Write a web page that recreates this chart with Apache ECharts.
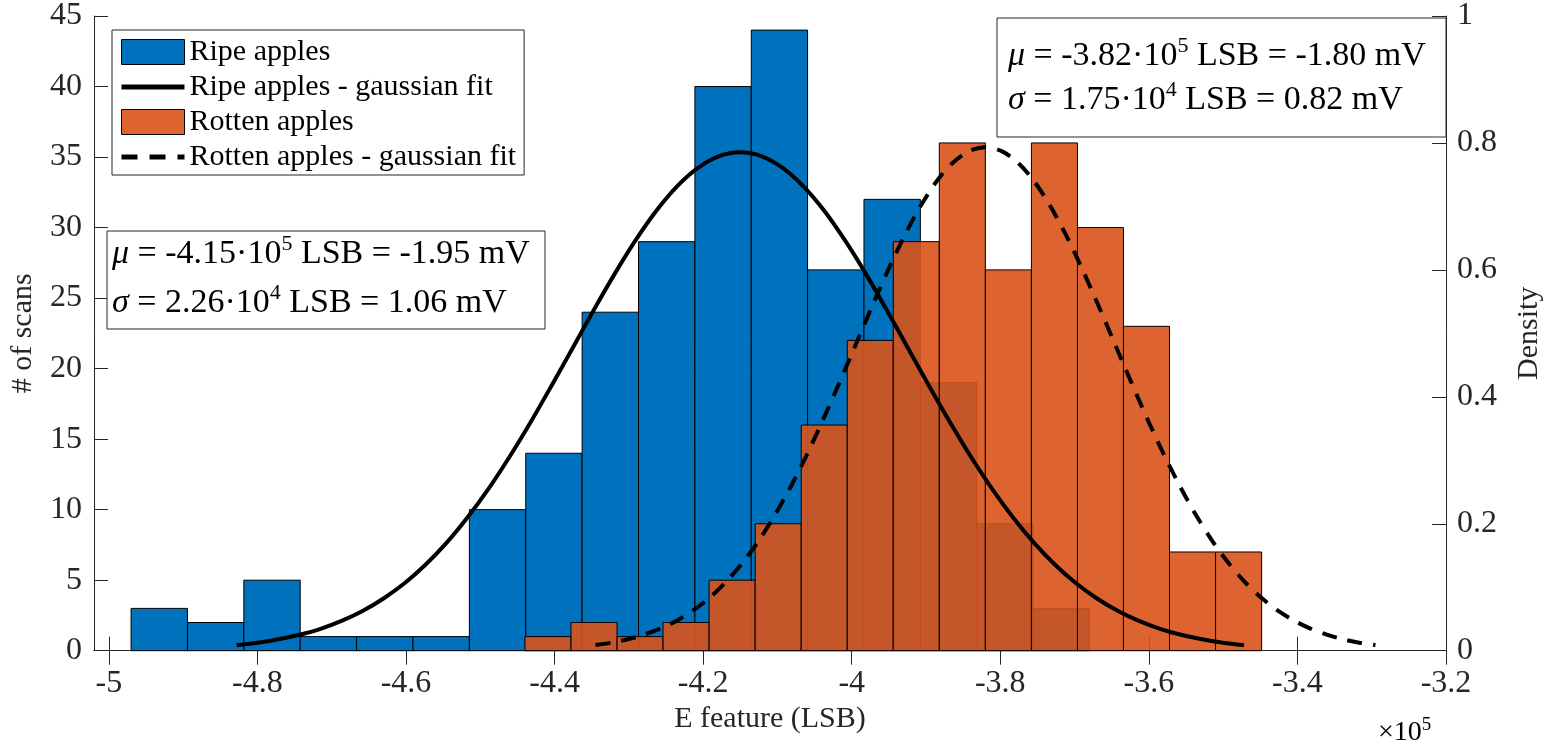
<!DOCTYPE html>
<html><head><meta charset="utf-8">
<script src="https://cdn.jsdelivr.net/npm/echarts@6/dist/echarts.min.js"></script>
<style>html,body{margin:0;padding:0;background:#fff}#c{width:1552px;height:749px}</style>
</head><body><div id="c"></div>
<script>
// x values in units of 1e5 LSB
const xTicks = [-5, -4.8, -4.6, -4.4, -4.2, -4, -3.8, -3.6, -3.4, -3.2];
const ripeEdges = [-4.9701, -4.8942, -4.8183, -4.7424, -4.6665, -4.5906, -4.5147, -4.4388, -4.3629,
  -4.2870, -4.2111, -4.1352, -4.0594, -3.9835, -3.9076, -3.8317, -3.7558, -3.6800];
const ripeCounts = [3, 2, 5, 1, 1, 1, 10, 14, 24, 29, 40, 44, 27, 32, 19, 9, 3];
const rottenEdges = [-4.4399, -4.3779, -4.3159, -4.2540, -4.1920, -4.1300, -4.0680, -4.0060, -3.9441,
  -3.8821, -3.8201, -3.7581, -3.6961, -3.6342, -3.5722, -3.5102, -3.4482];
const rottenCounts = [1, 2, 1, 2, 5, 9, 16, 22, 29, 36, 27, 36, 30, 23, 7, 7];
const ripeFitX = [-4.828, -4.7998, -4.7715, -4.7433, -4.715, -4.6868, -4.6585, -4.6303, -4.602, -4.5738,
  -4.5455, -4.5173, -4.489, -4.4608, -4.4325, -4.4043, -4.376, -4.3478, -4.3195, -4.2913, -4.263, -4.2348,
  -4.2065, -4.1783, -4.15, -4.1218, -4.0935, -4.0653, -4.037, -4.0088, -3.9805, -3.9523, -3.924, -3.8958,
  -3.8675, -3.8393, -3.811, -3.7828, -3.7545, -3.7263, -3.698, -3.6698, -3.6415, -3.6133, -3.585, -3.5568,
  -3.5285, -3.5003, -3.472];
const ripeFitY = [0.39, 0.57, 0.81, 1.13, 1.55, 2.11, 2.81, 3.70, 4.78, 6.09, 7.64, 9.44, 11.47, 13.73,
  16.18, 18.77, 21.43, 24.10, 26.68, 29.07, 31.19, 32.94, 34.25, 35.07, 35.34, 35.07, 34.25, 32.94, 31.19,
  29.07, 26.68, 24.10, 21.43, 18.77, 16.18, 13.73, 11.47, 9.44, 7.64, 6.09, 4.78, 3.70, 2.81, 2.11, 1.55,
  1.13, 0.81, 0.57, 0.39];
const rottenFitX = [-4.345, -4.3231, -4.3013, -4.2794, -4.2575, -4.2356, -4.2138, -4.1919, -4.17, -4.1481,
  -4.1263, -4.1044, -4.0825, -4.0606, -4.0388, -4.0169, -3.995, -3.9731, -3.9513, -3.9294, -3.9075, -3.8856,
  -3.8638, -3.8419, -3.82, -3.7981, -3.7763, -3.7544, -3.7325, -3.7106, -3.6888, -3.6669, -3.645, -3.6231,
  -3.6013, -3.5794, -3.5575, -3.5356, -3.5138, -3.4919, -3.47, -3.4481, -3.4263, -3.4044, -3.3825, -3.3606,
  -3.3388, -3.3169, -3.295];
const rottenFitY = [0.40, 0.57, 0.81, 1.14, 1.57, 2.13, 2.84, 3.73, 4.83, 6.16, 7.72, 9.53, 11.59, 13.87,
  16.34, 18.96, 21.65, 24.35, 26.95, 29.37, 31.51, 33.28, 34.60, 35.42, 35.70, 35.42, 34.60, 33.28, 31.51,
  29.37, 26.95, 24.35, 21.65, 18.96, 16.34, 13.87, 11.59, 9.53, 7.72, 6.16, 4.83, 3.73, 2.84, 2.13, 1.57,
  1.14, 0.81, 0.57, 0.40];
const seriesNames = ['Ripe apples', 'Ripe apples - gaussian fit', 'Rotten apples', 'Rotten apples - gaussian fit'];

const FONT = 'Liberation Serif';
const AX = '#262626';
const BLUE = '#0072BD';
const ORANGE = 'rgba(217,83,25,0.9)';

function binData(edges, counts) {
  return counts.map((c, i) => [edges[i], edges[i + 1], c]);
}
function pairs(xs, ys) { return xs.map((x, i) => [x, ys[i]]); }
function barRenderer(fill) {
  return function (params, api) {
    const p0 = api.coord([api.value(0), api.value(2)]);
    const p1 = api.coord([api.value(1), 0]);
    return {
      type: 'rect',
      shape: { x: p0[0], y: p0[1], width: p1[0] - p0[0], height: p1[1] - p0[1] },
      style: { fill: fill, stroke: '#000', lineWidth: 1 }
    };
  };
}

const chart = echarts.init(document.getElementById('c'));
const supRich = {
  i: { fontFamily: FONT, fontSize: 34, fontStyle: 'italic', color: '#000', lineHeight: 44 },
  n: { fontFamily: FONT, fontSize: 34, color: '#000', lineHeight: 44 },
  sup: { fontFamily: FONT, fontSize: 22, color: '#000', lineHeight: 22, padding: [0, 0, 20, 0] }
};
chart.setOption({
  animation: false,
  backgroundColor: '#fff',
  grid: { left: 86, right: 102.5, top: 15.7, bottom: 98.3, containLabel: false },
  legend: {
    orient: 'vertical', left: 112, top: 30,
    padding: [7, 8, 3, 7], itemGap: 5, itemWidth: 63, itemHeight: 25,
    backgroundColor: '#fff', borderColor: AX, borderWidth: 1,
    textStyle: { fontFamily: FONT, fontSize: 30, color: '#000' },
    data: [
      { name: seriesNames[0], icon: 'rect', itemStyle: { color: BLUE, borderColor: '#000', borderWidth: 1 } },
      { name: seriesNames[1], itemStyle: { opacity: 0 }, lineStyle: { width: 5, color: '#000' } },
      { name: seriesNames[2], icon: 'rect', itemStyle: { color: ORANGE, borderColor: '#000', borderWidth: 1 } },
      { name: seriesNames[3], itemStyle: { opacity: 0 }, lineStyle: { width: 5, color: '#000', type: [16, 12] } }
    ],
    selectedMode: false
  },
  xAxis: [{
    type: 'value', min: -5.02, max: -3.2, position: 'bottom',
    name: 'E feature (LSB)', nameLocation: 'middle', nameGap: 52,
    nameTextStyle: { fontFamily: FONT, fontSize: 30, color: AX },
    axisLine: { show: true, lineStyle: { color: AX, width: 1 } },
    axisTick: { show: true, inside: true, length: 14, lineStyle: { color: AX }, customValues: xTicks },
    axisLabel: { fontFamily: FONT, fontSize: 32, color: AX, margin: 17, customValues: xTicks },
    splitLine: { show: false }
  }, {
    type: 'value', min: -5.02, max: -3.2, position: 'top',
    axisLine: { show: true, lineStyle: { color: AX, width: 1 } },
    axisTick: { show: true, inside: true, length: 14, lineStyle: { color: AX }, customValues: xTicks },
    axisLabel: { show: false },
    splitLine: { show: false }
  }],
  yAxis: [{
    type: 'value', min: 0, max: 45, interval: 5, position: 'left',
    name: '# of scans', nameLocation: 'middle', nameGap: 56,
    nameTextStyle: { fontFamily: FONT, fontSize: 30, color: AX },
    axisLine: { show: true, lineStyle: { color: AX, width: 1 } },
    axisTick: { show: true, inside: true, length: 14, lineStyle: { color: AX } },
    axisLabel: { fontFamily: FONT, fontSize: 32, color: AX, margin: 12 },
    splitLine: { show: false }
  }, {
    type: 'value', min: 0, max: 1, interval: 0.2, position: 'right',
    name: 'Density', nameLocation: 'middle', nameGap: 68,
    nameTextStyle: { fontFamily: FONT, fontSize: 30, color: AX },
    axisLine: { show: true, lineStyle: { color: AX, width: 1 } },
    axisTick: { show: true, inside: true, length: 14, lineStyle: { color: AX } },
    axisLabel: { fontFamily: FONT, fontSize: 32, color: AX, margin: 11,
      formatter: v => (v === 0 || v === 1) ? String(v) : v.toFixed(1) },
    splitLine: { show: false }
  }],
  series: [{
    name: seriesNames[0], type: 'custom', xAxisIndex: 0, yAxisIndex: 0,
    renderItem: barRenderer(BLUE), encode: { x: [0, 1], y: 2 },
    itemStyle: { color: BLUE, borderColor: '#000', borderWidth: 1 },
    data: binData(ripeEdges, ripeCounts), z: 2
  }, {
    name: seriesNames[2], type: 'custom', xAxisIndex: 0, yAxisIndex: 0,
    renderItem: barRenderer(ORANGE), encode: { x: [0, 1], y: 2 },
    itemStyle: { color: ORANGE, borderColor: '#000', borderWidth: 1 },
    data: binData(rottenEdges, rottenCounts), z: 3
  }, {
    name: seriesNames[1], type: 'line', xAxisIndex: 0, yAxisIndex: 0,
    data: pairs(ripeFitX, ripeFitY), smooth: 0.3, symbol: 'none', showSymbol: false,
    itemStyle: { color: '#000' },
    lineStyle: { color: '#000', width: 4 }, z: 5
  }, {
    name: seriesNames[3], type: 'line', xAxisIndex: 0, yAxisIndex: 0,
    data: pairs(rottenFitX, rottenFitY), smooth: 0.3, symbol: 'none', showSymbol: false,
    itemStyle: { color: '#000' },
    lineStyle: { color: '#000', width: 4, type: [15, 11] }, z: 5
  }],
  graphic: [
    { type: 'rect', z: 100, shape: { x: 997, y: 18, width: 449, height: 119 },
      style: { fill: '#fff', stroke: AX, lineWidth: 1 } },
    { type: 'text', z: 101, x: 1008, y: 56,
      style: { text: '{i|μ}{n| = -3.82·10}{sup|5}{n| LSB = -1.80 mV}', rich: supRich, verticalAlign: 'middle' } },
    { type: 'text', z: 101, x: 1008, y: 100,
      style: { text: '{i|σ}{n| = 1.75·10}{sup|4}{n| LSB = 0.82 mV}', rich: supRich, verticalAlign: 'middle' } },
    { type: 'rect', z: 100, shape: { x: 107, y: 231, width: 438, height: 98 },
      style: { fill: '#fff', stroke: AX, lineWidth: 1 } },
    { type: 'text', z: 101, x: 112, y: 254,
      style: { text: '{i|μ}{n| = -4.15·10}{sup|5}{n| LSB = -1.95 mV}', rich: supRich, verticalAlign: 'middle' } },
    { type: 'text', z: 101, x: 112, y: 303,
      style: { text: '{i|σ}{n| = 2.26·10}{sup|4}{n| LSB = 1.06 mV}', rich: supRich, verticalAlign: 'middle' } },
    { type: 'text', z: 101, x: 1378, y: 733,
      style: { text: '{m|×10}{s|5}', verticalAlign: 'middle',
        rich: {
          m: { fontFamily: FONT, fontSize: 28, color: AX, lineHeight: 34 },
          s: { fontFamily: FONT, fontSize: 19, color: AX, lineHeight: 19, padding: [0, 0, 16, 0] }
        } } }
  ]
});
</script></body></html>
